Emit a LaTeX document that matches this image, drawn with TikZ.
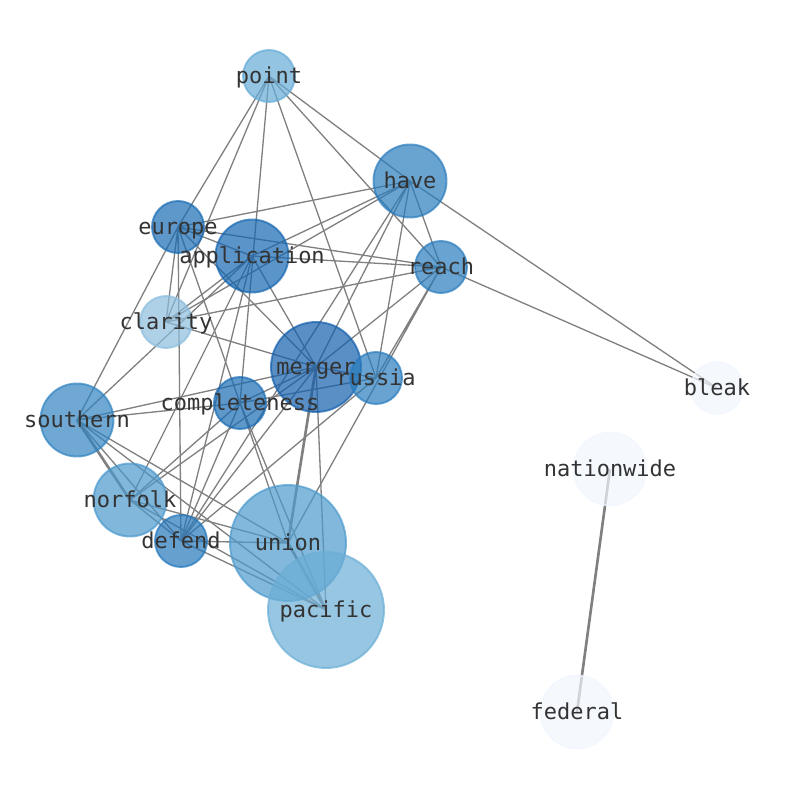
\documentclass[tikz,border=0pt]{standalone}
\usepackage{fontspec}
\setmonofont{DejaVu Sans Mono}
\usetikzlibrary{backgrounds}
\definecolor{cpoint}{RGB}{101,171,214}
\definecolor{chave}{RGB}{42,124,188}
\definecolor{ceurope}{RGB}{25,108,180}
\definecolor{capplication}{RGB}{21,102,176}
\definecolor{creach}{RGB}{42,124,189}
\definecolor{cclarity}{RGB}{139,189,221}
\definecolor{cmerger}{RGB}{19,95,172}
\definecolor{crussia}{RGB}{42,124,189}
\definecolor{cpale}{RGB}{241,246,254}
\definecolor{csouthern}{RGB}{48,131,192}
\definecolor{ccompleteness}{RGB}{25,108,180}
\definecolor{cnorfolk}{RGB}{74,152,204}
\definecolor{cdefend}{RGB}{35,119,187}
\definecolor{cunion}{RGB}{76,154,205}
\definecolor{cpacific}{RGB}{107,174,214}
\definecolor{wordtext}{RGB}{51,51,51}
\begin{document}
\begin{tikzpicture}[x=0.02cm,y=-0.02cm,
		word/.style={circle,inner sep=0pt,fill opacity=0.7,draw opacity=0.7,line width=1.1pt},
		tag/.style={text=wordtext,inner sep=0pt,text height=11.7pt,text depth=3pt,font=\ttfamily\fontsize{12.5}{14}\selectfont},
		link/.style={gray,line width=0.75pt},
		strong/.style={gray,line width=1.5pt}]
			\useasboundingbox (0,0) rectangle (794,790);
			% words
			\node[word,fill=cpoint,draw=cpoint,minimum size=1.04cm] (point) at (269,76) {};
			\node[word,fill=chave,draw=chave,minimum size=1.46cm] (have) at (410,181) {};
			\node[word,fill=ceurope,draw=ceurope,minimum size=1.04cm] (europe) at (178,227) {};
			\node[word,fill=capplication,draw=capplication,minimum size=1.46cm] (application) at (252,256) {};
			\node[word,fill=creach,draw=creach,minimum size=1.04cm] (reach) at (441,267) {};
			\node[word,fill=cclarity,draw=cclarity,minimum size=1.04cm] (clarity) at (166,322) {};
			\node[word,fill=cmerger,draw=cmerger,minimum size=1.8cm] (merger) at (316,367) {};
			\node[word,fill=crussia,draw=crussia,minimum size=1.04cm] (russia) at (376,378) {};
			\node[word,fill=cpale,draw=cpale,minimum size=1.04cm] (bleak) at (717,388) {};
			\node[word,fill=csouthern,draw=csouthern,minimum size=1.46cm] (southern) at (77,420) {};
			\node[word,fill=ccompleteness,draw=ccompleteness,minimum size=1.04cm] (completeness) at (240,403) {};
			\node[word,fill=cpale,draw=cpale,minimum size=1.46cm] (nationwide) at (610,469) {};
			\node[word,fill=cnorfolk,draw=cnorfolk,minimum size=1.46cm] (norfolk) at (130,500) {};
			\node[word,fill=cdefend,draw=cdefend,minimum size=1.04cm] (defend) at (181,541) {};
			\node[word,fill=cunion,draw=cunion,minimum size=2.32cm] (union) at (288,543) {};
			\node[word,fill=cpacific,draw=cpacific,minimum size=2.32cm] (pacific) at (326,610) {};
			\node[word,fill=cpale,draw=cpale,minimum size=1.46cm] (federal) at (577,712) {};
			% labels
			\node[tag] (point-t) at (point) {point};
			\node[tag] (have-t) at (have) {have};
			\node[tag] (europe-t) at (europe) {europe};
			\node[tag] (application-t) at (application) {application};
			\node[tag] (reach-t) at (reach) {reach};
			\node[tag] (clarity-t) at (clarity) {clarity};
			\node[tag] (merger-t) at (merger) {merger};
			\node[tag] (russia-t) at (russia) {russia};
			\node[tag] (bleak-t) at (bleak) {bleak};
			\node[tag] (southern-t) at (southern) {southern};
			\node[tag] (completeness-t) at (completeness) {completeness};
			\node[tag] (nationwide-t) at (nationwide) {nationwide};
			\node[tag] (norfolk-t) at (norfolk) {norfolk};
			\node[tag] (defend-t) at (defend) {defend};
			\node[tag] (union-t) at (union) {union};
			\node[tag] (pacific-t) at (pacific) {pacific};
			\node[tag] (federal-t) at (federal) {federal};
			% links
			\begin{pgfonlayer}{background}
			\draw[link] (point.center) -- (europe.center) (point.center) -- (clarity.center) (point.center) -- (completeness.center)
				(point.center) -- (russia.center) (point.center) -- (reach.center) (point.center) -- (have.center);
			\draw[link] (have.center) -- (bleak.center) (have.center) -- (europe.center) (have.center) -- (application.center)
				(have.center) -- (clarity.center) (have.center) -- (merger.center) (have.center) -- (russia.center)
				(have.center) -- (reach.center) (have.center) -- (defend.center);
			\draw[link] (reach.center) -- (bleak.center) (reach.center) -- (europe.center) (reach.center) -- (application.center)
				(reach.center) -- (clarity.center) (reach.center) -- (merger.center) (reach.center) -- (russia.center)
				(reach.center) -- (union.center);
			\draw[link] (europe.center) -- (application.center) (europe.center) -- (southern.center) (europe.center) -- (clarity.center)
				(europe.center) -- (defend.center) (europe.center) -- (completeness.center) (europe.center) -- (merger.center);
			\draw[link] (application.center) -- (clarity.center) (application.center) -- (southern.center)
				(application.center) -- (merger.center) (application.center) -- (defend.center) (application.center) -- (norfolk.center);
			\draw[link] (clarity.center) -- (merger.center);
			\draw[link] (merger.center) -- (pacific.center) (merger.center) -- (russia.center) (merger.center) -- (completeness.center)
				(merger.center) -- (southern.center) (merger.center) -- (norfolk.center) (merger.center) -- (defend.center);
			\draw[link] (russia.center) -- (completeness.center) (russia.center) -- (defend.center);
			\draw[link] (southern.center) -- (completeness.center) (southern.center) -- (union.center)
				(southern.center) -- (pacific.center) (southern.center) -- (defend.center);
			\draw[link] (completeness.center) -- (union.center) (completeness.center) -- (pacific.center)
				(completeness.center) -- (defend.center) (completeness.center) -- (norfolk.center);
			\draw[link] (norfolk.center) -- (defend.center) (norfolk.center) -- (pacific.center) (norfolk.center) -- (union.center);
			\draw[link] (defend.center) -- (union.center) (defend.center) -- (pacific.center);
			\draw[strong] (merger.center) -- (union.center) (union.center) -- (pacific.center)
				(southern.center) -- (norfolk.center) (nationwide.center) -- (federal.center);
			\end{pgfonlayer}
		\end{tikzpicture}
\end{document}
